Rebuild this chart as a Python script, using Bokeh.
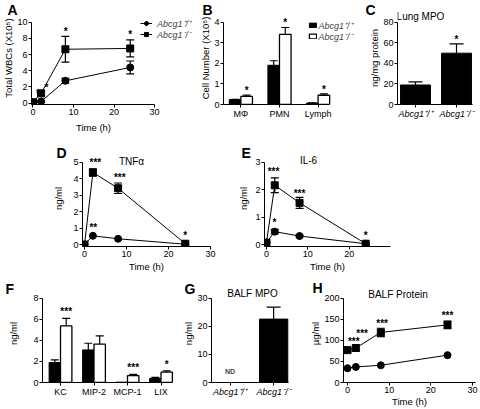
from bokeh.plotting import figure
from bokeh.layouts import row, column
from bokeh.models import (ColumnDataSource, Whisker, TeeHead, FixedTicker, Label,
                          LabelSet, Legend, LegendItem, Range1d)
from bokeh.core.properties import value
from bokeh.embed import file_html
from bokeh.resources import INLINE

FONT = "Liberation Sans"
WT = "Abcg1\u207a/\u207a"
KO = "Abcg1\u207b/\u207b"

# ---------------- data ----------------
time_a = [0, 2, 8, 24]
wbc_wt = [0.05, 0.2, 2.75, 4.4]
wbc_wt_err = [0.0, 0.1, 0.3, 0.8]
wbc_ko = [0.1, 1.2, 6.65, 6.75]
wbc_ko_err = [0.0, 0.3, 1.6, 1.05]
star_a_x = [1.2, 3.3, 8.1, 24]
star_a_y = [1.45, 2.2, 9.1, 8.7]
star_a_t = ["*", "*", "*", "*"]

cats_b = ["M\u03a6", "PMN", "Lymph"]
cell_wt = [0.24, 1.91, 0.07]
cell_wt_err = [0.01, 0.22, 0.01]
cell_ko = [0.40, 3.42, 0.45]
cell_ko_err = [0.06, 0.33, 0.07]
star_b_y = [0.8, 4.07, 0.82]
star_b_t = ["*", "*", "*"]

cats_c = [WT, KO]
mpo_lung = [19, 50]
mpo_lung_err = [3, 9]
star_c_y = [None, 65.6]
star_c_t = ["", "*"]

time_d = [0, 2, 8, 24]
tnf_wt = [0.0, 0.53, 0.35, 0.02]
tnf_wt_err = [0.0, 0.0, 0.0, 0.0]
tnf_ko = [0.0, 4.38, 3.42, 0.05]
tnf_ko_err = [0.0, 0.22, 0.32, 0.0]
star_d_x = [2.6, 8.4, 2.1, 24]
star_d_y = [5.1, 4.2, 1.18, 0.7]
star_d_t = ["***", "***", "**", "*"]

time_e = [0, 2, 8, 24]
il6_wt = [0.07, 0.47, 0.31, 0.03]
il6_wt_err = [0.0, 0.08, 0.03, 0.0]
il6_ko = [0.07, 2.16, 1.52, 0.03]
il6_ko_err = [0.0, 0.27, 0.2, 0.0]
star_e_x = [1.7, 8.0, 1.9, 24]
star_e_y = [2.75, 1.95, 0.88, 0.42]
star_e_t = ["***", "***", "*", "*"]

cats_f = ["KC", "MIP-2", "MCP-1", "LIX"]
chem_wt = [1.9, 3.1, 0.03, 0.38]
chem_wt_err = [0.25, 0.63, 0.0, 0.1]
chem_ko = [5.38, 3.64, 0.66, 0.98]
chem_ko_err = [0.72, 0.79, 0.12, 0.12]
star_f_y = [6.96, None, 1.58, 1.9]
star_f_t = ["***", "", "***", "*"]

cats_g = [WT, KO]
mpo_balf = [0.0, 22.6]
mpo_balf_err = [0.0, 4.3]
nd_text = ["ND", ""]

time_h = [0, 2, 8, 24]
prot_wt = [34, 37, 41, 65]
prot_wt_err = [0, 0, 0, 0]
prot_ko = [77, 82, 119, 137]
prot_ko_err = [4, 7, 10, 9]
star_h_x = [1.5, 3.5, 8.3, 24]
star_h_y = [102, 121, 145, 164]
star_h_t = ["***", "***", "***", "***"]

LETTER = "14px"
TITLE = "10px"
FRAMES = {}


# ---------------- helpers ----------------
def lin(lo_px, hi_px, a, pa, b, pb):
    k = (pb - pa) / (b - a)
    return a + (lo_px - pa) / k, a + (hi_px - pa) / k


def panel(fx, fy, w, h, ft, fl, fb, fr, xmap, ymap, xb_end, yb_end, xticks, yticks,
          ylabel, xlabel=None, ystand=0, xstand=1):
    xr = lin(fl, fr, *xmap)
    yr = lin(fb, ft, *ymap)
    p = figure(width=w, height=h, x_range=Range1d(*xr), y_range=Range1d(*yr),
               output_backend="svg", toolbar_location=None,
               min_border_left=fl - fx, min_border_right=fx + w - fr,
               min_border_top=ft - fy, min_border_bottom=fy + h - fb)
    p.outline_line_color = None
    p.xgrid.visible = False
    p.ygrid.visible = False
    p.xaxis.ticker = FixedTicker(ticks=xticks)
    p.yaxis.ticker = FixedTicker(ticks=yticks)
    p.xaxis.bounds = (xr[0], xb_end)
    p.yaxis.bounds = (yr[0], yb_end)
    for ax in p.axis:
        ax.axis_line_color = "black"
        ax.axis_line_width = 1
        ax.major_tick_line_color = "black"
        ax.major_tick_in = 0
        ax.major_tick_out = 3
        ax.minor_tick_line_color = None
        ax.major_label_text_font = FONT
        ax.major_label_text_font_size = "9px"
        ax.major_label_text_color = "black"
        ax.major_label_text_line_height = 1.0
        ax.major_label_standoff = 1
        ax.axis_label_text_font = FONT
        ax.axis_label_text_font_size = "9.5px"
        ax.axis_label_text_font_style = "normal"
        ax.axis_label_text_color = "black"
        ax.axis_label_text_line_height = 1.0
    p.yaxis.axis_label = ylabel
    p.yaxis.axis_label_standoff = ystand
    if xlabel:
        p.xaxis.axis_label = xlabel
        p.xaxis.axis_label_standoff = xstand
    FRAMES[p.id] = (fl, fb, ft)
    return p


def letter(p, text, x_left, cap_bottom):
    # panel letter as the figure's own title, pulled left of / down onto the frame edge
    fl, fb, ft = FRAMES[p.id]
    t = p.title
    t.text = text
    t.align = "left"
    t.vertical_align = "bottom"
    t.offset = x_left - fl
    t.text_font = FONT
    t.text_font_size = LETTER
    t.text_font_style = "bold"
    t.text_color = "black"
    try:
        t.standoff = int(round(2 * (ft - (cap_bottom + 3))))
    except Exception:
        t.standoff = 0


def strip(fy, h):
    p = figure(width=480, height=h, x_range=Range1d(0, 480), y_range=Range1d(fy + h, fy),
               min_border=0, x_axis_location=None, y_axis_location=None,
               toolbar_location=None, output_backend="svg")
    p.outline_line_color = None
    p.grid.visible = False
    return p


def stext(p, x, y, text, size=TITLE, style="normal", align="center"):
    p.add_layout(Label(x=x, y=y, text=text, text_font=FONT, text_font_size=size,
                       text_font_style=style, text_align=align, text_baseline="middle",
                       text_color="black"))


def ptext(p, px, py, text, size=TITLE, align="center"):
    fl, fb, ft = FRAMES[p.id]
    p.add_layout(Label(x=px - fl, y=fb - py, x_units="screen", y_units="screen",
                       text=text, text_font=FONT, text_font_size=size,
                       text_align=align, text_baseline="middle", text_color="black"))


def add_stars(p, xs, ys, texts):
    sel = [i for i in range(len(texts)) if texts[i]]
    src = ColumnDataSource(dict(x=[xs[i] for i in sel], y=[ys[i] for i in sel],
                                t=[texts[i] for i in sel]))
    p.add_layout(LabelSet(source=src, x="x", y="y", text="t", text_font=value(FONT),
                          text_font_size="10px", text_font_style="bold",
                          text_align="center", text_baseline="middle", y_offset=-2,
                          text_color="black"))


def add_err(p, xs, vals, errs, size, both=True):
    sel = [i for i in range(len(errs)) if errs[i] > 0]
    src = ColumnDataSource(dict(
        base=[xs[i] for i in sel],
        upper=[vals[i] + errs[i] for i in sel],
        lower=[(vals[i] - errs[i]) if both else vals[i] for i in sel]))
    p.add_layout(Whisker(source=src, base="base", upper="upper", lower="lower",
                         line_color="black", line_width=1.2,
                         upper_head=TeeHead(size=size, line_color="black", line_width=1.2),
                         lower_head=TeeHead(size=size, line_color="black", line_width=1.2) if both else None))


def line_series(p, xs, ys, marker):
    l = p.line(xs, ys, line_color="black", line_width=1)
    s = p.scatter(xs, ys, marker=marker, size=7, fill_color="black", line_color="black")
    return l, s


def cat_axis(p, cats, italic=False):
    p.xaxis.major_label_overrides = {i: c for i, c in enumerate(cats)}
    if italic:
        p.xaxis.major_label_text_font_style = "italic"


def legend_row(p, label, renderers, px, py_center, gw, gh, standoff):
    fl, fb, ft = FRAMES[p.id]
    leg = Legend(items=[LegendItem(label=value(label), renderers=renderers)],
                 location=(px - fl, fb - (py_center + 5)), orientation="vertical",
                 padding=0, margin=0, spacing=0,
                 glyph_width=gw, glyph_height=gh, label_height=10, label_standoff=standoff,
                 label_text_font=FONT, label_text_font_size="9px",
                 label_text_line_height=1.0,
                 label_text_font_style="italic", border_line_color=None,
                 background_fill_alpha=0)
    p.add_layout(leg)


# ---------------- Row 1 ----------------
pA = panel(0, 0, 197, 121, 11, 27, 107, 197, (0, 28.5, 30, 153), (0, 105.5, 10, 22), 30, 10,
           [0, 10, 20, 30], [0, 2, 4, 6, 8, 10], "Total WBCs (X10\u2075)", ystand=0)
add_err(pA, time_a, wbc_wt, wbc_wt_err, 8)
add_err(pA, time_a, wbc_ko, wbc_ko_err, 8)
la1, sa1 = line_series(pA, time_a, wbc_wt, "circle")
la2, sa2 = line_series(pA, time_a, wbc_ko, "square")
add_stars(pA, star_a_x, star_a_y, star_a_t)
legend_row(pA, WT, [la1, sa1], 136, 27.5, 12, 10, 5)
legend_row(pA, KO, [la2, sa2], 136, 38.5, 12, 10, 5)
letter(pA, "A", 3, 14)

pos_b = list(range(len(cats_b)))
pB = panel(197, 0, 165, 121, 11, 218, 105, 362, (0, 236, 2, 316), (0, 105, 4, 22), 2.3, 4,
           pos_b, [0, 1, 2, 3, 4], "Cell Number (X10\u2075)", ystand=0)
cat_axis(pB, cats_b)
xb_wt = [x - 0.15 for x in pos_b]
xb_ko = [x + 0.15 for x in pos_b]
rb1 = pB.vbar(x=xb_wt, top=cell_wt, width=0.3, fill_color="black", line_color="black")
rb2 = pB.vbar(x=xb_ko, top=cell_ko, width=0.3, fill_color="white", line_color="black", line_width=1.3)
add_err(pB, xb_wt, cell_wt, cell_wt_err, 8, both=False)
add_err(pB, xb_ko, cell_ko, cell_ko_err, 8, both=False)
add_stars(pB, xb_ko, star_b_y, star_b_t)
legend_row(pB, WT, [rb1], 302.5, 27.5, 9, 6, 2)
legend_row(pB, KO, [rb2], 302.5, 38.5, 9, 6, 2)
letter(pB, "B", 197, 14)

pos_c = list(range(len(cats_c)))
pC = panel(362, 0, 118, 121, 11, 397, 105, 480, (0, 415, 1, 456), (0, 105, 80, 22), 1.39, 80,
           pos_c, [0, 20, 40, 60, 80], "ng/mg protein", ystand=0)
cat_axis(pC, cats_c, italic=True)
pC.vbar(x=pos_c, top=mpo_lung, width=0.73, fill_color="black", line_color="black")
add_err(pC, pos_c, mpo_lung, mpo_lung_err, 14, both=False)
add_stars(pC, pos_c, star_c_y, star_c_t)
ptext(pC, 420, 17.1, "Lung MPO")
letter(pC, "C", 365, 14)

f1 = strip(121, 13)
stext(f1, 93, 127, "Time (h)", "9.5px")

# ---------------- Row 2 ----------------
pD = panel(0, 134, 235, 140, 150, 82, 248, 210, (0, 84, 30, 210), (0, 246, 5, 162), 30, 5,
           [0, 10, 20, 30], [0, 1, 2, 3, 4, 5], "ng/ml", "Time (h)", ystand=6)
add_err(pD, time_d, tnf_wt, tnf_wt_err, 8)
add_err(pD, time_d, tnf_ko, tnf_ko_err, 8)
line_series(pD, time_d, tnf_wt, "circle")
line_series(pD, time_d, tnf_ko, "square")
add_stars(pD, star_d_x, star_d_y, star_d_t)
ptext(pD, 131, 163, "TNF\u03b1")
letter(pD, "D", 56, 157)

pE = panel(235, 134, 245, 140, 150, 263, 248, 390, (0, 265, 30, 390), (0, 246, 3, 162), 30, 3,
           [0, 10, 20, 30], [0, 1, 2, 3], "ng/ml", "Time (h)", ystand=3)
add_err(pE, time_e, il6_wt, il6_wt_err, 8)
add_err(pE, time_e, il6_ko, il6_ko_err, 8)
line_series(pE, time_e, il6_wt, "circle")
line_series(pE, time_e, il6_ko, "square")
add_stars(pE, star_e_x, star_e_y, star_e_t)
ptext(pE, 307, 161.5, "IL-6")
letter(pE, "E", 240, 157)

# ---------------- Row 3 ----------------
pos_f = list(range(len(cats_f)))
pF = panel(0, 274, 180, 135, 284, 42, 383, 180, (0, 60, 3, 160.5), (0, 383, 8, 298), 3.343, 8,
           pos_f, [0, 2, 4, 6, 8], "ng/ml", ystand=11)
cat_axis(pF, cats_f)
xf_wt = [x - 0.17 for x in pos_f]
xf_ko = [x + 0.17 for x in pos_f]
pF.vbar(x=xf_wt, top=chem_wt, width=0.34, fill_color="black", line_color="black")
pF.vbar(x=xf_ko, top=chem_ko, width=0.34, fill_color="white", line_color="black", line_width=1.3)
add_err(pF, xf_wt, chem_wt, chem_wt_err, 8, both=False)
add_err(pF, xf_ko, chem_ko, chem_ko_err, 8, both=False)
add_stars(pF, xf_ko, star_f_y, star_f_t)
letter(pF, "F", 5, 293)

pos_g = list(range(len(cats_g)))
pG = panel(180, 274, 122, 135, 284, 209, 383, 302, (0, 228, 1, 272.5), (0, 383, 30, 298), 1.35, 30,
           pos_g, [0, 10, 20, 30], "ng/ml", ystand=0)
cat_axis(pG, cats_g, italic=True)
pG.vbar(x=pos_g, top=mpo_balf, width=0.65, fill_color="black", line_color="black")
add_err(pG, pos_g, mpo_balf, mpo_balf_err, 14, both=False)
for i, t in enumerate(nd_text):
    if t:
        pG.add_layout(Label(x=pos_g[i], y=mpo_balf[i] + 4, text=t, text_font=FONT,
                            text_font_size="7px", text_font_style="bold",
                            text_align="center", text_baseline="middle"))
ptext(pG, 250, 293.5, "BALF MPO")
letter(pG, "G", 182, 293)

pH = panel(302, 274, 178, 135, 284, 343, 383, 475, (0, 347, 30, 472), (0, 383, 200, 298), 30.7, 200,
           [0, 10, 20, 30], [0, 50, 100, 150, 200], "\u00b5g/ml", "Time (h)",
           ystand=0, xstand=0)
add_err(pH, time_h, prot_wt, prot_wt_err, 8)
add_err(pH, time_h, prot_ko, prot_ko_err, 8)
line_series(pH, time_h, prot_wt, "circle")
line_series(pH, time_h, prot_ko, "square")
add_stars(pH, star_h_x, star_h_y, star_h_t)
ptext(pH, 397.5, 294.5, "BALF Protein")
letter(pH, "H", 312, 292)

layout = column(row(pA, pB, pC), f1, row(pD, pE), row(pF, pG, pH))

with open("out.html", "w") as f:
    f.write(file_html(layout, INLINE))
